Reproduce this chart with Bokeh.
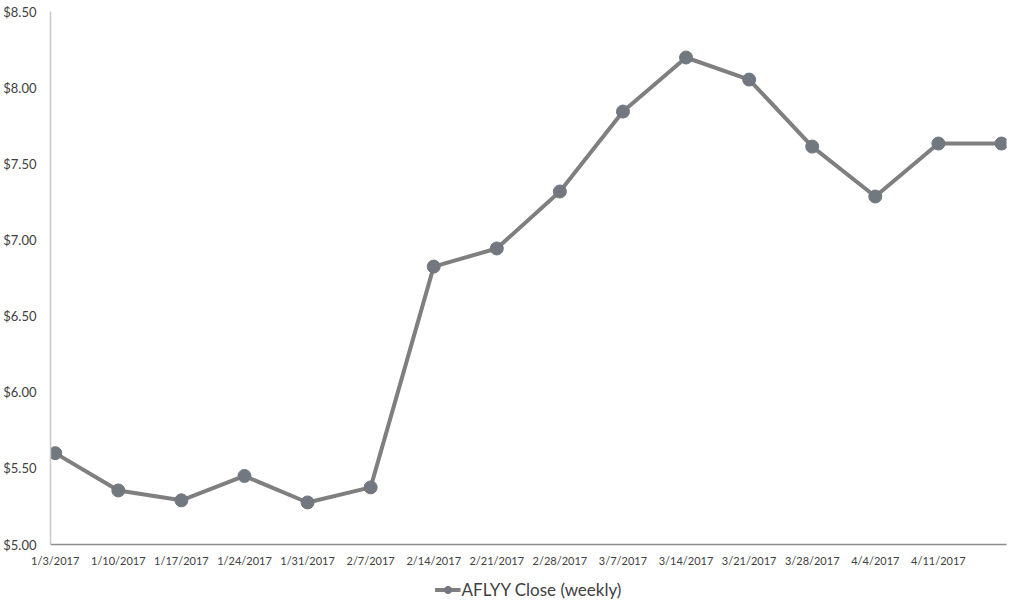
from bokeh.plotting import figure
from bokeh.layouts import column
from bokeh.models import Range1d, FixedTicker, NumeralTickFormatter, Legend, LegendItem, ColumnDataSource
from bokeh.embed import file_html
from bokeh.resources import INLINE

dates = ["1/3/2017", "1/10/2017", "1/17/2017", "1/24/2017", "1/31/2017", "2/7/2017",
         "2/14/2017", "2/21/2017", "2/28/2017", "3/7/2017", "3/14/2017", "3/21/2017",
         "3/28/2017", "4/4/2017", "4/11/2017", ""]
close = [5.60, 5.355, 5.29, 5.45, 5.276, 5.375, 6.825, 6.944, 7.318, 7.843, 8.198,
         8.053, 7.613, 7.285, 7.633, 7.633]
y_ticks = [5.0, 5.5, 6.0, 6.5, 7.0, 7.5, 8.0, 8.5]
series_name = "AFLYY Close (weekly)"

idx = list(range(len(dates)))
src = ColumnDataSource(dict(x=idx, y=close))

LINE_C = "#7f7f7f"
MARK_C = "#72787f"

p = figure(width=1008, height=574, output_backend="svg", toolbar_location=None,
           x_range=Range1d(-0.075, 15.08), y_range=Range1d(5.0, 8.5),
           min_border_left=44, min_border_right=2, min_border_top=11,
           min_border_bottom=30)
p.outline_line_color = None
p.grid.visible = False

p.line("x", "y", source=src, line_color=LINE_C, line_width=4)
p.scatter("x", "y", source=src, size=13, fill_color=MARK_C, line_color=MARK_C)

p.xaxis.ticker = FixedTicker(ticks=idx[:-1])
p.xaxis.major_label_overrides = {i: d for i, d in enumerate(dates) if d}
p.xaxis.major_tick_line_color = None
p.xaxis.major_tick_out = 0
p.xaxis.major_tick_in = 0
p.xaxis.minor_tick_line_color = None
p.xaxis.minor_tick_out = 0
p.xaxis.axis_line_color = "#8c8c8c"
p.xaxis.axis_line_width = 1.5
p.xaxis.major_label_text_font = "Lato"
p.xaxis.major_label_text_font_size = "11px"
p.xaxis.major_label_text_color = "#404040"
p.xaxis.major_label_standoff = 9

p.yaxis.ticker = FixedTicker(ticks=y_ticks)
p.yaxis.formatter = NumeralTickFormatter(format="$0.00")
p.yaxis.major_tick_line_color = None
p.yaxis.major_tick_out = 0
p.yaxis.major_tick_in = 0
p.yaxis.minor_tick_line_color = None
p.yaxis.minor_tick_out = 0
p.yaxis.axis_line_color = "#c8c8c8"
p.yaxis.axis_line_width = 1.5
p.yaxis.major_label_text_font = "Lato"
p.yaxis.major_label_text_font_size = "13px"
p.yaxis.major_label_text_color = "#404040"
p.yaxis.major_label_standoff = 14

# legend strip: same series drawn out of view, only its legend is visible
lg = figure(width=1008, height=30, output_backend="svg", toolbar_location=None,
            x_range=Range1d(100, 101), y_range=Range1d(100, 101),
            x_axis_type=None, y_axis_type=None,
            min_border_left=0, min_border_right=0, min_border_top=0, min_border_bottom=0)
lg.outline_line_color = None
lg.grid.visible = False
l2 = lg.line("x", "y", source=src, line_color=LINE_C, line_width=4)
c2 = lg.scatter("x", "y", source=src, size=11, fill_color=MARK_C, line_color=MARK_C)
legend = Legend(items=[LegendItem(label=series_name, renderers=[l2, c2])],
                orientation="horizontal", location="center",
                label_text_font="Lato", label_text_font_size="17px",
                label_text_color="#404040", border_line_color=None,
                background_fill_alpha=0, label_height=18, glyph_height=18,
                glyph_width=26, label_standoff=1, padding=0, margin=0)
lg.add_layout(legend, "center")

layout = column(p, lg, spacing=0)
open("out.html", "w").write(file_html(layout, INLINE))
